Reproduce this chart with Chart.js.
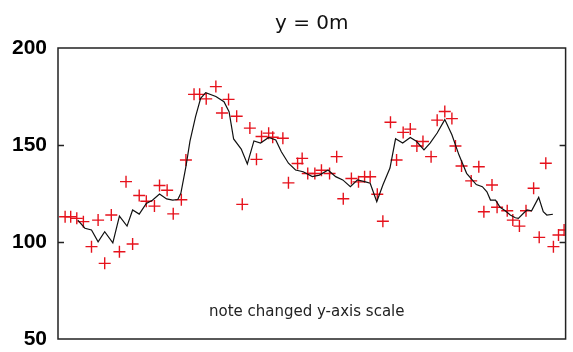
<!DOCTYPE html>
<html>
<head>
<meta charset="utf-8">
<script src="https://cdn.jsdelivr.net/npm/chart.js@4"></script>
<style>
  html, body { margin: 0; padding: 0; background: #fff; }
  #wrap { width: 573px; height: 352px; }
</style>
</head>
<body>
<div id="wrap"><canvas id="out"></canvas></div>
<script>
const titleText = "y = 0m";
const noteText = "note changed y-axis scale";
const yTicks = [50, 100, 150, 200];

// observed values (red crosses), x = position along the section
const obsX = [1.4, 2.5, 3.7, 5.0, 6.6, 7.9, 9.2, 10.5, 12.1, 13.4,
  14.7, 16.0, 17.4, 19.0, 20.0, 21.5, 22.7, 24.3, 25.2, 26.8,
  27.9, 29.2, 31.1, 32.3, 33.6, 35.2, 36.3, 37.8, 39.1, 40.1,
  41.5, 42.3, 44.3, 45.4, 47.2, 48.1, 49.2, 50.6, 51.9, 53.5,
  54.9, 56.2, 57.8, 59.2, 60.4, 61.5, 62.9, 64.0, 65.5, 66.7,
  68.0, 69.4, 70.7, 71.9, 73.5, 74.7, 76.2, 77.6, 78.3, 79.5,
  81.4, 82.9, 83.9, 85.5, 86.5, 88.5, 89.6, 90.9, 92.2, 93.7,
  94.8, 96.1, 97.6, 98.6, 99.7];
const obsY = [113, 113, 112.2, 110.5, 97.6, 111.3, 89, 113.9, 95, 131.1,
  99, 124, 121, 118.5, 129.1, 126.7, 114.5, 121.8, 142.3, 176.1,
  176.1, 173.8, 180.1, 166.5, 173.5, 164.8, 119.4, 158.7, 142.6, 154.4,
  156.1, 154, 153.5, 130.5, 140.5, 143.1, 135.3, 135.3, 137, 135.3,
  144, 122.3, 132.7, 131, 133.6, 133.6, 124.6, 110.7, 161.7, 142.3,
  156.5, 158.2, 149.5, 151.8, 144, 162.8, 167.3, 163.6, 149.5, 139.2,
  131.5, 138.8, 115.6, 129.4, 117.9, 116.1, 111.3, 108.2, 116.1, 127.7,
  102.4, 140.6, 97.6, 103.6, 106.2];

// model curve (black line)
const modelX = [3.9, 5.3, 6.6, 7.9, 9.2, 10.8, 12.1, 13.6, 14.7, 16.0,
  17.4, 18.6, 20.0, 21.4, 22.6, 23.6, 24.2, 25.2, 26.0, 27.1,
  28.1, 29.1, 31.1, 32.7, 33.7, 34.6, 36.1, 37.3, 38.6, 39.9,
  41.5, 42.9, 44.0, 45.4, 46.8, 48.3, 50.1, 51.5, 53.2, 54.7,
  56.1, 57.6, 59.0, 60.4, 61.5, 62.8, 64.0, 65.4, 66.5, 67.9,
  69.4, 70.6, 72.1, 73.3, 74.7, 76.2, 77.6, 79.0, 80.5, 82.4,
  83.6, 84.5, 85.2, 86.2, 87.1, 88.1, 89.1, 90.1, 90.7, 91.7,
  92.4, 93.3, 94.7, 95.6, 96.3, 97.5];
const modelY = [111.3, 107.1, 106.2, 100.1, 105.3, 99.6, 113.3, 108.2, 116.5, 114.4,
  119.9, 121.5, 124.7, 122.2, 121.6, 121.9, 125.1, 138.8, 152, 164.6,
  174.1, 177.0, 175.0, 172.3, 167.2, 153.1, 147.9, 140.2, 152.1, 151.0,
  153.9, 152.6, 146.5, 140.6, 137.1, 136.2, 133.7, 134.5, 137.1, 133.7,
  132.0, 128.5, 132.0, 131.1, 130.3, 120.8, 129.4, 138.1, 153.2, 151.0,
  153.9, 151.9, 147.5, 151.0, 156.2, 163.1, 155.3, 144.8, 135.4, 129.6,
  128.5, 125.9, 121.6, 121.6, 117.9, 116.1, 113.9, 112.5, 112.2, 114.8,
  116.5, 116.1, 123.0, 115.6, 113.9, 114.3];

const notePos = { x: 49, y: 64 };

function toPoints(xs, ys) {
  return xs.map((x, i) => ({ x, y: ys[i] }));
}

// box around the plot, small inward ticks and the note
const framePlugin = {
  id: "frame",
  afterDatasetsDraw(chart) {
    const { ctx, chartArea: a, scales } = chart;
    ctx.save();
    ctx.strokeStyle = "#222";
    ctx.lineWidth = 1.5;
    ctx.strokeRect(a.left, a.top, a.width, a.height);
    for (const v of yTicks) {
      if (v === scales.y.min || v === scales.y.max) continue;
      const py = Math.round(scales.y.getPixelForValue(v)) + 0.5;
      ctx.beginPath();
      ctx.moveTo(a.left, py);
      ctx.lineTo(a.left + 6, py);
      ctx.moveTo(a.right, py);
      ctx.lineTo(a.right - 6, py);
      ctx.stroke();
    }
    ctx.fillStyle = "#222";
    ctx.font = "15px 'DejaVu Sans'";
    ctx.textAlign = "center";
    ctx.textBaseline = "middle";
    ctx.fillText(noteText, scales.x.getPixelForValue(notePos.x), scales.y.getPixelForValue(notePos.y));
    ctx.restore();
  }
};

const canvasCtx = document.getElementById("out").getContext("2d");
new Chart(canvasCtx, {
  type: "scatter",
  data: {
    datasets: [
      {
        label: "model",
        data: toPoints(modelX, modelY),
        showLine: true,
        borderColor: "#111",
        borderWidth: 1.2,
        pointRadius: 0,
        tension: 0,
        order: 0
      },
      {
        label: "obs",
        data: toPoints(obsX, obsY),
        showLine: false,
        pointStyle: "cross",
        pointRadius: 6,
        borderColor: "rgb(230, 18, 28)",
        borderWidth: 1.4,
        order: 1
      }
    ]
  },
  options: {
    responsive: true,
    maintainAspectRatio: false,
    animation: false,
    layout: { padding: { left: 0, right: 4, top: 0, bottom: 13 } },
    plugins: {
      legend: { display: false },
      tooltip: { enabled: false },
      title: {
        display: true,
        text: titleText,
        fullSize: false,
        color: "#111",
        font: { family: "DejaVu Sans", size: 20, weight: "normal" },
        padding: { top: 12, bottom: 12 }
      }
    },
    scales: {
      x: { type: "linear", min: 0, max: 100, display: false },
      y: {
        min: 50,
        max: 200,
        afterBuildTicks(scale) { scale.ticks = yTicks.map(v => ({ value: v })); },
        afterFit(scale) {
          scale.width = 58;
          scale.paddingTop = 0;
          scale.paddingBottom = 0;
        },
        grid: { display: false, drawTicks: false },
        border: { display: false },
        ticks: {
          color: "#000",
          padding: 11,
          font: { family: "Liberation Sans", size: 21, weight: "bold" }
        }
      }
    }
  },
  plugins: [framePlugin]
});
</script>
</body>
</html>
